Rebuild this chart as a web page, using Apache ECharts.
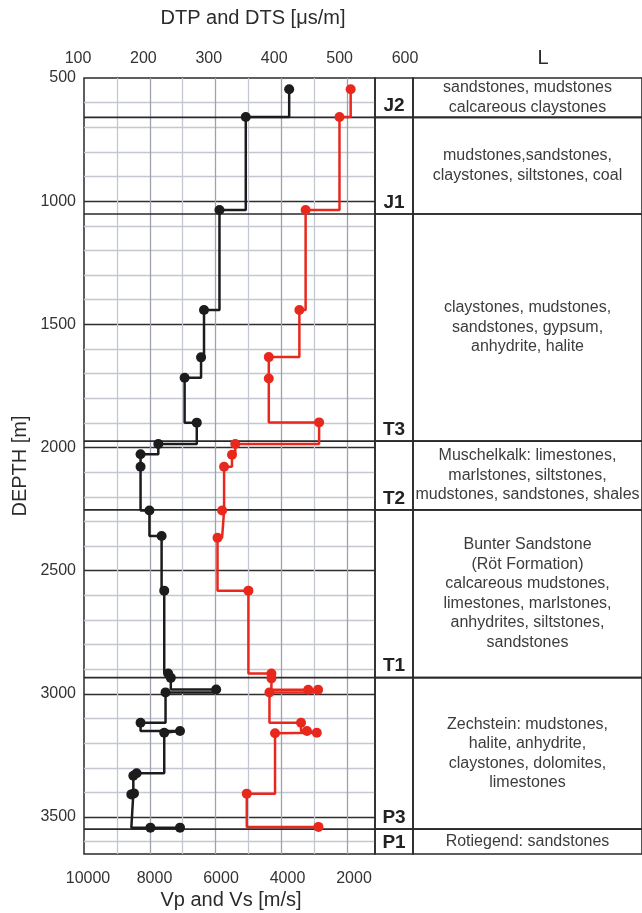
<!DOCTYPE html>
<html>
<head>
<meta charset="utf-8">
<script src="https://cdn.jsdelivr.net/npm/echarts@6/dist/echarts.min.js"></script>
<style>
  html, body { margin: 0; padding: 0; background: #ffffff; }
  #chart { width: 642px; height: 913px; }
</style>
</head>
<body>
<div id="chart"></div>
<script>
// P-wave slowness (DTP) picks: depth [m] and slowness [µs/m]
const dtpDepth = [546, 658, 1036, 1442, 1634, 1717, 1899, 1986, 2027, 2078, 2256, 2359, 2581, 2917, 2935, 2982, 2994, 3117, 3151, 3158, 3322, 3332, 3404, 3408, 3543, 3543];
const dtpValue = [412, 346, 306, 282.5, 278, 253, 271.5, 213, 186, 186, 199.5, 218, 222, 228, 232, 301, 224, 186, 246, 222, 180, 175, 176, 172, 201, 246];

// S-wave slowness (DTS) picks: depth [m] and slowness [µs/m]
const dtsDepth = [546, 658, 1036, 1442, 1633, 1720, 1898, 1986, 2029, 2078, 2256, 2366, 2581, 2917, 2937, 2983, 2983, 2994, 3117, 3151, 3158, 3160, 3405, 3540];
const dtsValue = [505.5, 488.5, 437, 427.5, 381, 381, 457.5, 330, 325, 313, 310, 303, 350, 385, 385, 441, 456, 382, 430, 439, 454, 390.5, 347.5, 456.5];

// Stratigraphic units: code, top and base depth [m], lithology
const unitCodes = ['J2', 'J1', 'T3', 'T2', 'T1', 'P3', 'P1'];
const unitTops  = [500, 660, 1052, 1974, 2253, 2934, 3549];
const unitBases = [660, 1052, 1974, 2253, 2934, 3549, 3650];
const unitLithology = [
  'sandstones, mudstones\ncalcareous claystones',
  'mudstones,sandstones,\nclaystones, siltstones, coal',
  'claystones, mudstones,\nsandstones, gypsum,\nanhydrite, halite',
  'Muschelkalk: limestones,\nmarlstones, siltstones,\nmudstones, sandstones, shales',
  'Bunter Sandstone\n(Röt Formation)\ncalcareous mudstones,\nlimestones, marlstones,\nanhydrites, siltstones,\nsandstones',
  'Zechstein: mudstones,\nhalite, anhydrite,\nclaystones, dolomites,\nlimestones',
  'Rotiegend: sandstones'
];

// Depth axis range
const depthMin = 500, depthMax = 3650;

const FONT = "'Liberation Sans', Arial, sans-serif";
const INK = '#2b2b2b';
const CODE_COL_W = 38;
const LIGHT = '#c4c7cf', MID = '#9ea2ad', DARK = '#2e2e2e';

const chart = echarts.init(document.getElementById('chart'), null, { renderer: 'canvas' });

const zip = (xs, ys) => xs.map((x, i) => [x, ys[i]]);

chart.setOption({
  animation: false,
  backgroundColor: '#ffffff',
  grid: [
    { left: 84, top: 78, width: 291, height: 776, show: true, borderColor: '#2a2a2a', borderWidth: 1.5, containLabel: false },
    { left: 375, top: 78, width: 267, height: 776, containLabel: false },
    { left: 78, top: 78, width: 327, height: 776, containLabel: false },
    { left: 88, top: 78, width: 266, height: 776, containLabel: false }
  ],
  xAxis: [
    { // slowness scale of the log panel; first drawn line is 150
      gridIndex: 0, type: 'value', min: 100, max: 542.5, interval: 50,
      axisLine: { show: false }, axisTick: { show: false }, axisLabel: { show: false },
      splitLine: { show: true, showMinLine: false, showMaxLine: false,
        lineStyle: { color: [LIGHT, MID], width: 1.3 } }
    },
    { gridIndex: 1, type: 'value', min: 0, max: 1, show: false },
    { // DTP / DTS tick labels
      gridIndex: 2, type: 'value', position: 'top', min: 100, max: 600, interval: 100,
      axisLine: { show: false }, axisTick: { show: false }, splitLine: { show: false },
      axisLabel: { margin: 11, fontSize: 16, color: '#333', fontFamily: FONT }
    },
    { // Vp / Vs tick labels
      gridIndex: 3, type: 'value', position: 'bottom', min: 2000, max: 10000, interval: 2000, inverse: true,
      axisLine: { show: false }, axisTick: { show: false }, splitLine: { show: false },
      axisLabel: { margin: 17, fontSize: 16, color: '#333', fontFamily: FONT, formatter: v => String(v) }
    }
  ],
  yAxis: [
    { // depth; first drawn line is 600, every fifth line (500 m) is dark
      gridIndex: 0, type: 'value', inverse: true, min: depthMin, max: depthMax, interval: 100,
      axisLine: { show: false }, axisTick: { show: false },
      axisLabel: {
        margin: 8, fontSize: 16, color: '#333', fontFamily: FONT,
        formatter: v => (v % 500 === 0 ? String(v) : '')
      },
      splitLine: { show: true, showMinLine: false, showMaxLine: false,
        lineStyle: { color: [LIGHT, LIGHT, LIGHT, LIGHT, DARK], width: 1.4 } }
    },
    { gridIndex: 1, type: 'value', inverse: true, min: depthMin, max: depthMax, show: false },
    { gridIndex: 2, type: 'value', min: 0, max: 1, show: false },
    { gridIndex: 3, type: 'value', min: 0, max: 1, show: false }
  ],
  graphic: [
    { type: 'text', x: 253, y: 18, style: { text: 'DTP and DTS [μs/m]', fontSize: 20, fontFamily: FONT, fill: INK, align: 'center', verticalAlign: 'middle' } },
    { type: 'text', x: 543, y: 58, style: { text: 'L', fontSize: 20, fontFamily: FONT, fill: INK, align: 'center', verticalAlign: 'middle' } },
    { type: 'text', x: 231, y: 900, style: { text: 'Vp and Vs [m/s]', fontSize: 20, fontFamily: FONT, fill: INK, align: 'center', verticalAlign: 'middle' } },
    { type: 'text', x: 20, y: 466, rotation: Math.PI / 2, style: { text: 'DEPTH [m]', fontSize: 20, fontFamily: FONT, fill: INK, align: 'center', verticalAlign: 'middle' } }
  ],
  series: [
    { // unit boundaries across the log panel
      type: 'custom', xAxisIndex: 0, yAxisIndex: 0, z: 2, silent: true,
      data: unitBases.slice(0, -1).map(d => [100, d]),
      encode: { x: 0, y: 1 },
      renderItem: (params, api) => {
        const cs = params.coordSys;
        const y = api.coord([100, api.value(1)])[1];
        return { type: 'line', shape: { x1: cs.x, y1: y, x2: cs.x + cs.width, y2: y },
          style: { stroke: '#2a2a2a', lineWidth: 1.6 } };
      }
    },
    { // stratigraphic column with codes and lithology
      type: 'custom', xAxisIndex: 1, yAxisIndex: 1, z: 2, silent: true,
      data: unitTops.map((t, i) => [0, t, unitBases[i]]),
      encode: { x: 0, y: [1, 2] },
      renderItem: (params, api) => {
        const cs = params.coordSys;
        const i = params.dataIndex;
        const y0 = api.coord([0, api.value(1)])[1];
        const y1 = api.coord([0, api.value(2)])[1];
        const xl = cs.x, xm = cs.x + CODE_COL_W, xr = cs.x + cs.width;
        return {
          type: 'group',
          children: [
            { type: 'rect', shape: { x: xl, y: y0, width: xm - xl, height: y1 - y0 },
              style: { fill: 'none', stroke: '#2a2a2a', lineWidth: 1.6 } },
            { type: 'rect', shape: { x: xm, y: y0, width: xr - xm, height: y1 - y0 },
              style: { fill: 'none', stroke: '#2a2a2a', lineWidth: 1.6 } },
            { type: 'text', x: (xl + xm) / 2, y: y1 - 2,
              style: { text: unitCodes[i], fontSize: 19, fontWeight: 'bold', fontFamily: FONT,
                fill: '#222', align: 'center', verticalAlign: 'bottom' } },
            { type: 'text', x: (xm + xr) / 2, y: (y0 + y1) / 2,
              style: { text: unitLithology[i], fontSize: 16, lineHeight: 19.5, fontFamily: FONT,
                fill: '#3c3c3c', align: 'center', verticalAlign: 'middle' } }
          ]
        };
      }
    },
    {
      name: 'DTP', type: 'line', xAxisIndex: 0, yAxisIndex: 0, z: 4,
      data: zip(dtpValue, dtpDepth), step: 'start',
      symbol: 'circle', symbolSize: 10, showAllSymbol: true,
      itemStyle: { color: '#1c1c1c' },
      lineStyle: { color: '#1c1c1c', width: 2.5 }
    },
    {
      name: 'DTS', type: 'line', xAxisIndex: 0, yAxisIndex: 0, z: 3,
      data: zip(dtsValue, dtsDepth), step: 'start',
      symbol: 'circle', symbolSize: 10, showAllSymbol: true,
      itemStyle: { color: '#e8281d' },
      lineStyle: { color: '#e8281d', width: 2.5 }
    }
  ]
});
</script>
</body>
</html>
